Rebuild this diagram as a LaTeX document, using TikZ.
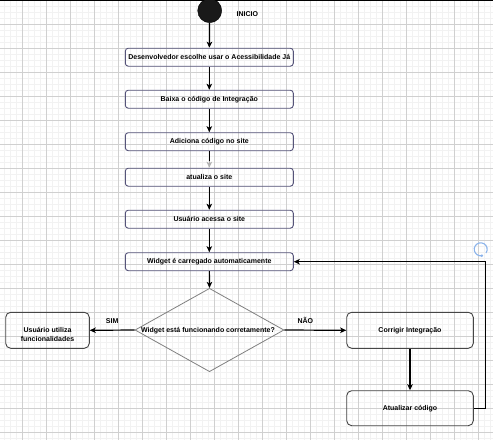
\documentclass[tikz,border=0pt]{standalone}
\usepackage{fontspec}
\setmainfont{Liberation Sans}
\usetikzlibrary{arrows.meta,shapes.geometric,calc}
\definecolor{gridminor}{RGB}{242,242,242}
\definecolor{gridmajor}{RGB}{208,208,208}
\definecolor{boxpurple}{RGB}{86,84,122}
\definecolor{boxgray}{RGB}{70,70,70}
\definecolor{diagray}{RGB}{128,128,128}
\definecolor{handleblue}{RGB}{140,180,235}
\tikzset{
  stepbox/.style={draw=boxpurple, line width=0.9pt, rounded corners=3pt, minimum width=168pt, minimum height=18pt, inner sep=0pt, font=\bfseries\fontsize{7}{8.5}\selectfont},
  sidebox/.style={draw=boxgray, line width=0.9pt, rounded corners=5pt, inner sep=0pt, font=\bfseries\fontsize{7}{8.5}\selectfont},
  txt/.style={font=\bfseries\fontsize{7}{9}\selectfont, inner sep=0pt},
  arr/.style={draw=black, line width=1.2pt, -{Stealth[length=6pt,width=5.5pt,inset=1.5pt]}},
}
\begin{document}
\begin{tikzpicture}[x=1pt,y=-1pt]
\useasboundingbox (0,0) rectangle (493,440);
\fill[white] (0,0) rectangle (493,440);
% grid
\foreach \i in {0,...,83} {
  \draw[gridminor, line width=0.6pt] ({-1.3+6*\i},0) -- ({-1.3+6*\i},440);
}
\foreach \i in {0,...,74} {
  \draw[gridminor, line width=0.6pt] (0,{0.3+6*\i}) -- (493,{0.3+6*\i});
}
\foreach \i in {0,...,20} {
  \draw[gridmajor, line width=0.8pt] ({22.7+24*\i},0) -- ({22.7+24*\i},440);
}
\foreach \i in {0,...,18} {
  \draw[gridmajor, line width=0.8pt] (0,{24.3+24*\i}) -- (493,{24.3+24*\i});
}
\draw[black, line width=1.4pt] (0,0) -- (493,0);

% start
\node[circle, fill=black!90, draw=black, minimum size=24pt, inner sep=0pt] (start) at (209.7,10.7) {};
\node[txt, anchor=west] (inicio) at (236.5,14) {INICIO};

% steps
\node[stepbox] (s1) at (209.3,57.2) {Desenvolvedor escolhe usar o Acessibilidade Já};
\node[stepbox] (s2) at (209.3,99.2) {Baixa o código de Integração};
\node[stepbox] (s3) at (209.3,141.7) {Adiciona código no site};
\node[stepbox] (s4) at (209.3,177.2) {atualiza o site};
\node[stepbox] (s5) at (209.3,219.2) {Usuário acessa o site};
\node[stepbox] (s6) at (209.3,261.7) {Widget é carregado automaticamente};

% decision
\node[diamond, draw=diagray, line width=0.8pt, minimum width=149pt, minimum height=83.4pt, aspect=1.79, inner sep=0pt] (dec) at (209.5,330) {};
\node[txt] (dectxt) at (208,330.5) {Widget está funcionando corretamente?};

% side boxes
\node[sidebox, minimum width=83.6pt, minimum height=36pt] (left) at (47.5,330.3) {};
\node[txt, align=center] (lefttxt) at (47.5,334) {Usuário utiliza\\funcionalidades};
\node[sidebox, minimum width=126.6pt, minimum height=36pt] (fix) at (410,330.3) {Corrigir Integração};
\node[sidebox, minimum width=126.6pt, minimum height=35pt] (atu) at (410,408.2) {Atualizar código};

% connectors
\draw[arr] (start) -- (s1);
\draw[arr] (s1) -- (s2);
\draw[arr] (s2) -- (s3);
\draw[black, line width=1.2pt] (s3.south) -- ++(0,11);
\draw[line width=1.2pt, draw=gray!60, -{Stealth[length=6pt,width=5.5pt,inset=1.5pt, open]}] ($(s3.south)+(0,10)$) -- (s4.north);
\draw[arr] (s4) -- (s5);
\draw[arr] (s5) -- (s6);
\draw[arr] (s6) -- (dec.north);
\draw[arr] (dec.west) -- (left.east) node[txt, midway, above=6pt] (sim) {SIM};
\draw[arr] (dec.east) -- (fix.west) node[txt, midway, above=6pt, xshift=-10pt] (nao) {NÃO};
\draw[arr] (fix) -- (atu);
\coordinate (loop) at (485.7,261.7);
\draw[arr] (atu.east) -| (loop) -- (s6.east);

% rotate handle
\draw[handleblue, line width=1.1pt] (480.7,249.3) ++(75:6.5) arc[start angle=75, end angle=395, radius=6.5];
\fill[handleblue] ($(480.7,249.3)+(80:6.5)$) circle (1.4pt);
\end{tikzpicture}
\end{document}
